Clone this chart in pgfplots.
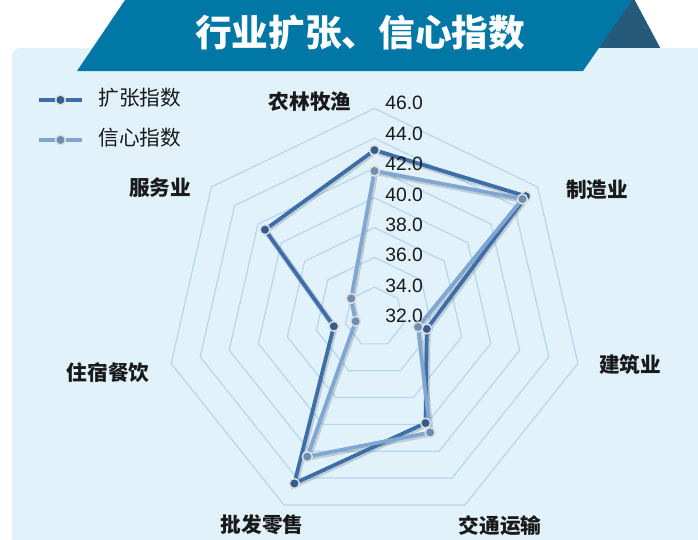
\documentclass[border=0pt]{standalone}
\usepackage{fontspec}
\setmainfont{Liberation Sans}
\newfontfamily\cjk{Noto Sans CJK SC}
\usepackage{pgfplots}
\usepackage{pgfplotstable}
\pgfplotsset{compat=1.18}

\definecolor{panel}{HTML}{E1F2FB}
\definecolor{banner}{HTML}{0077A4}
\definecolor{bannerdark}{HTML}{255A7B}
\definecolor{expandc}{HTML}{3D6EA8}
\definecolor{confc}{HTML}{80A7D3}
\definecolor{gridc}{HTML}{B6D6F0}
\definecolor{labc}{HTML}{1A1A1A}

% angle of each spoke (deg), expansion index, confidence index; first row repeated to close
\pgfplotstableread{
ang expand conf
90 43.2 41.8
38.571 45.0 44.7
-12.857 35.6 35.0
-64.286 39.9 40.6
-115.714 44.4 42.4
-167.143 34.8 33.3
-218.571 41.4 34.0
-270 43.2 41.8
}\radar

\begin{document}
\begin{tikzpicture}
\begin{axis}[
  x=0.75pt, y=0.75pt, y dir=reverse,
  xmin=0, xmax=698, ymin=0, ymax=539,
  hide axis, clip=false,
  legend cell align=left,
  legend image code/.code={
    \draw[#1, mark repeat=2, mark phase=2] plot coordinates {(0pt,0pt) (16pt,0pt) (32pt,0pt)};
  },
  legend style={draw=none, fill=none, at={(axis cs:37,87)}, anchor=north west,
    font=\cjk\fontsize{15.5}{18}\selectfont, text=labc, row sep=11pt, inner sep=0pt,
    nodes={inner sep=2pt, text height=12pt, text depth=3pt},
    /tikz/every odd column/.append style={column sep=9pt}},
]
% background
\fill[bannerdark] (axis cs:632,-5) -- (axis cs:664,55) -- (axis cs:583,71) -- cycle;
\fill[panel, rounded corners=6pt] (axis cs:12,48) rectangle (axis cs:740,600);
\fill[banner] (axis cs:77,71) -- (axis cs:128.4,-5) -- (axis cs:635.4,-5) -- (axis cs:583,71) -- cycle;
\node[text=white, font=\cjk\bfseries\fontsize{27.5}{30}\selectfont] at (axis cs:360,33) {行业扩张、信心指数};

% heptagon rings 34 ... 46
\pgfplotsinvokeforeach{34,36,38,40,42,44,46}{
  \addplot[gridc, line width=0.9pt, forget plot] table[
    x expr={374.5+(#1-32)*14.9*cos(\thisrow{ang})},
    y expr={317-(#1-32)*14.9*sin(\thisrow{ang})}] {\radar};
}

% soft shadows
\addplot[black, opacity=0.15, line width=4.4pt, xshift=0.7pt, yshift=-0.9pt, forget plot] table[
  x expr={374.5+(\thisrow{expand}-32)*14.9*cos(\thisrow{ang})},
  y expr={317-(\thisrow{expand}-32)*14.9*sin(\thisrow{ang})}] {\radar};
\addplot[black, opacity=0.15, line width=4.4pt, xshift=0.7pt, yshift=-0.9pt, forget plot] table[
  x expr={374.5+(\thisrow{conf}-32)*14.9*cos(\thisrow{ang})},
  y expr={317-(\thisrow{conf}-32)*14.9*sin(\thisrow{ang})}] {\radar};

% series
\addplot[expandc, line width=2.8pt, mark=*, mark size=3.7pt,
  mark options={fill=expandc!85!black, draw=gray!25, line width=1.1pt}] table[
  x expr={374.5+(\thisrow{expand}-32)*14.9*cos(\thisrow{ang})},
  y expr={317-(\thisrow{expand}-32)*14.9*sin(\thisrow{ang})}] {\radar};
\addlegendentry{扩张指数}
\addplot[confc, line width=2.8pt, mark=*, mark size=3.7pt,
  mark options={fill=confc!85!black, draw=gray!25, line width=1.1pt}] table[
  x expr={374.5+(\thisrow{conf}-32)*14.9*cos(\thisrow{ang})},
  y expr={317-(\thisrow{conf}-32)*14.9*sin(\thisrow{ang})}] {\radar};
\addlegendentry{信心指数}

% radial tick labels
\pgfplotsinvokeforeach{32,34,36,38,40,42,44,46}{
  \node[anchor=west, inner sep=0pt, text=labc, font=\fontsize{14.5}{17}\selectfont]
    at (axis cs:385,{316-(#1-32)*15.2}) {#1.0};
}

% category labels
\begin{scope}[every node/.style={text=labc, font=\cjk\bfseries\fontsize{15.5}{18}\selectfont}]
\node at (axis cs:310,102) {农林牧渔};
\node at (axis cs:597,190) {制造业};
\node at (axis cs:630,365) {建筑业};
\node at (axis cs:500,526) {交通运输};
\node at (axis cs:262,525) {批发零售};
\node at (axis cs:108,373) {住宿餐饮};
\node at (axis cs:160,188) {服务业};
\end{scope}
\end{axis}
\pgfresetboundingbox
\useasboundingbox (current axis.south west) rectangle (current axis.north east);
\end{tikzpicture}
\end{document}
